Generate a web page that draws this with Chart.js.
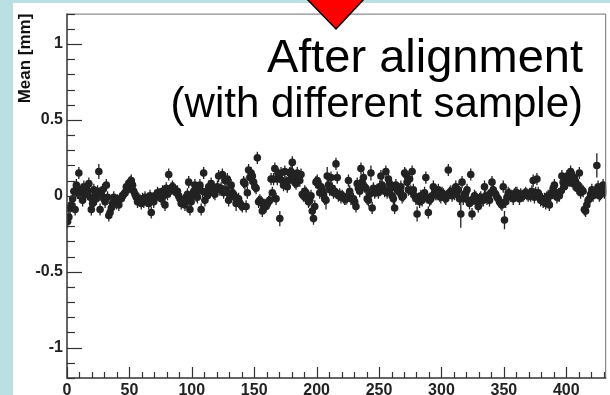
<!DOCTYPE html>
<html>
<head>
<meta charset="utf-8">
<script src="https://cdn.jsdelivr.net/npm/chart.js@4.4.0/dist/chart.umd.min.js"></script>
<style>
  html, body { margin: 0; padding: 0; background: #bbe0e4; }
  #wrap { position: absolute; left: 0; top: 0; width: 610px; height: 395px; }
</style>
</head>
<body>
<div id="wrap"><canvas id="myChart" width="610" height="395"></canvas></div>
<script>
// mean residual per bin (bins 0..431, one point per bin)
var means = [
  -0.17, -0.14, -0.08, -0.06, -0.02, 0.03, -0.09, 0.07, 0.02, 0.15,
  0.00, 0.04, -0.03, 0.06, 0.01, 0.05, 0.03, 0.08, -0.01, -0.09,
  -0.05, 0.04, 0.01, -0.02, 0.03, 0.16, -0.09, 0.01, 0.04, -0.02,
  -0.04, 0.07, -0.01, -0.13, -0.11, -0.08, -0.05, -0.01, -0.04, -0.05,
  -0.03, -0.06, -0.02, -0.02, 0.00, 0.01, 0.02, 0.06, 0.04, 0.08,
  0.09, 0.10, 0.07, 0.03, 0.01, -0.01, -0.04, -0.02, -0.03, -0.05,
  -0.02, -0.04, -0.01, -0.03, -0.02, -0.05, 0.00, -0.11, -0.02, -0.04,
  0.00, -0.01, 0.02, 0.01, 0.01, -0.02, 0.03, 0.00, -0.06, 0.05,
  0.01, 0.14, 0.03, 0.05, 0.06, 0.05, 0.04, 0.02, 0.03, 0.00,
  -0.02, -0.05, -0.04, -0.03, -0.06, -0.02, 0.01, 0.09, -0.09, -0.04,
  0.00, 0.03, 0.07, 0.00, -0.01, 0.04, 0.07, -0.09, 0.03, 0.15,
  -0.03, 0.02, 0.00, 0.06, 0.03, 0.08, 0.05, 0.02, 0.01, 0.04,
  0.06, 0.13, 0.04, 0.05, 0.14, 0.02, 0.10, 0.04, 0.11, -0.03,
  0.00, 0.07, 0.02, 0.01, -0.01, -0.05, -0.03, -0.02, -0.05, -0.06,
  -0.07, 0.09, 0.08, -0.07, 0.02, 0.17, 0.12, 0.15, 0.13, 0.09,
  0.06, 0.05, 0.25, -0.04, -0.03, -0.04, -0.10, -0.08, -0.06, -0.07,
  -0.05, -0.04, -0.03, 0.11, 0.02, 0.11, 0.18, -0.02, 0.11, 0.14,
  -0.15, 0.15, 0.10, 0.07, 0.16, 0.09, 0.06, 0.10, 0.15, 0.16,
  0.22, 0.13, 0.09, 0.08, 0.15, 0.13, 0.10, 0.14, 0.01, 0.00,
  0.03, 0.02, -0.02, -0.04, -0.03, 0.00, -0.10, -0.15, -0.07, 0.09,
  0.10, 0.07, 0.02, 0.06, 0.04, 0.01, -0.02, -0.03, 0.13, 0.07,
  0.04, 0.12, 0.05, 0.02, 0.03, 0.21, 0.12, 0.00, 0.01, -0.01,
  0.00, -0.01, -0.02, -0.02, -0.01, 0.10, 0.03, -0.02, -0.02, -0.02,
  -0.04, -0.07, 0.08, 0.05, 0.03, 0.18, 0.09, 0.12, 0.06, 0.05,
  -0.02, -0.03, 0.01, 0.15, -0.08, 0.05, 0.02, 0.03, 0.04, 0.02,
  0.06, 0.13, 0.07, 0.05, 0.03, 0.16, 0.02, 0.11, 0.08, 0.05,
  0.00, -0.02, -0.08, 0.07, 0.04, 0.03, 0.04, 0.06, -0.01, 0.00,
  0.15, 0.14, 0.09, 0.04, 0.11, 0.03, 0.16, 0.04, 0.00, -0.02,
  -0.12, -0.02, -0.04, 0.00, -0.03, -0.01, 0.02, 0.12, -0.01, -0.11,
  -0.03, -0.02, 0.00, 0.06, 0.02, 0.01, 0.01, 0.04, 0.00, -0.01,
  0.02, 0.01, -0.01, -0.02, 0.00, 0.17, 0.02, 0.03, 0.00, 0.03,
  0.01, 0.06, 0.02, 0.04, -0.02, -0.12, 0.09, -0.02, 0.01, 0.02,
  0.04, -0.03, -0.05, 0.14, -0.12, -0.02, 0.00, -0.01, -0.04, -0.07,
  -0.02, -0.01, -0.03, -0.03, 0.06, 0.00, -0.02, -0.01, -0.03, 0.02,
  0.09, 0.04, 0.02, 0.01, -0.01, -0.02, -0.04, -0.05, -0.06, 0.06,
  -0.16, -0.04, -0.01, 0.02, 0.01, 0.00, 0.00, -0.02, 0.01, 0.02,
  0.02, 0.00, -0.02, 0.01, 0.00, 0.00, 0.01, 0.02, 0.01, 0.00,
  0.01, 0.00, 0.03, 0.10, -0.01, 0.02, 0.11, 0.02, 0.00, -0.03,
  -0.02, -0.04, -0.02, -0.05, -0.01, 0.00, -0.06, 0.00, 0.02, 0.05,
  0.07, 0.02, -0.01, 0.00, 0.00, 0.03, 0.13, 0.09, 0.06, 0.08,
  0.13, 0.11, 0.10, 0.16, 0.10, 0.08, 0.12, 0.09, 0.05, 0.07,
  0.15, 0.02, 0.04, 0.03, -0.09, -0.10, -0.06, -0.03, -0.02, 0.01,
  0.04, 0.00, 0.02, 0.03, 0.20, 0.06, 0.00, 0.01, 0.03, 0.07,
  0.02, 0.04
];

// error on the mean: most bins share one size, a few are larger
var defaultErr = 0.04;
var bigErrBins = [25, 135, 170, 207, 208, 243, 280, 315, 350, 424];
var bigErrVals = [0.05, 0.05, 0.05, 0.06, 0.06, 0.05, 0.05, 0.09, 0.06, 0.08];

var xTickLabels = ['0', '50', '100', '150', '200', '250', '300', '350', '400'];
var yTickLabels = ['-1', '-0.5', '0', '0.5', '1'];
var yTitle = 'Mean [mm]';
var noteLines = ['After alignment', '(with different sample)'];

var binWidth = 1;
var xMax = 432;
var yMin = -1.2, yMax = 1.2;

var points = means.map(function (m, i) {
  return { x: (i + 0.5) * binWidth, y: m };
});

function errFor(i) {
  var k = bigErrBins.indexOf(i);
  return k >= 0 ? bigErrVals[k] : defaultErr;
}

var labelFont = { family: '"Liberation Sans", Arial, sans-serif', size: 16, weight: 'bold' };

// white pad over the light blue page, like the slide behind the plot
var backdrop = {
  id: 'backdrop',
  beforeDraw: function (chart) {
    var ctx = chart.ctx;
    ctx.save();
    ctx.fillStyle = '#bbe0e4';
    ctx.fillRect(0, 0, chart.width, chart.height);
    ctx.fillStyle = '#ffffff';
    ctx.fillRect(13, 3, chart.width - 13, chart.height - 3);
    ctx.restore();
  }
};

// vertical error bars drawn through the scales
var errorBars = {
  id: 'errorBars',
  beforeDatasetsDraw: function (chart) {
    var ctx = chart.ctx, xs = chart.scales.x, ys = chart.scales.y, a = chart.chartArea;
    ctx.save();
    ctx.beginPath();
    ctx.rect(a.left, a.top, a.right - a.left, a.bottom - a.top);
    ctx.clip();
    ctx.strokeStyle = '#222';
    ctx.lineWidth = 1.3;
    points.forEach(function (p, i) {
      var e = errFor(i);
      var px = xs.getPixelForValue(p.x);
      ctx.beginPath();
      ctx.moveTo(px, ys.getPixelForValue(p.y - e));
      ctx.lineTo(px, ys.getPixelForValue(p.y + e));
      ctx.stroke();
    });
    ctx.restore();
  }
};

// ROOT style frame with inward ticks
var frame = {
  id: 'frame',
  afterDraw: function (chart) {
    var ctx = chart.ctx, a = chart.chartArea, xs = chart.scales.x, ys = chart.scales.y;
    ctx.save();
    ctx.strokeStyle = '#707070';
    ctx.lineWidth = 1;
    ctx.beginPath();
    ctx.moveTo(a.left, a.top + 0.5);
    ctx.lineTo(a.right - 0.5, a.top + 0.5);
    ctx.lineTo(a.right - 0.5, a.bottom);
    ctx.stroke();

    ctx.strokeStyle = '#333';
    ctx.lineWidth = 1.5;
    ctx.beginPath();
    ctx.moveTo(a.left, a.top);
    ctx.lineTo(a.left, a.bottom);
    ctx.lineTo(a.right, a.bottom);
    ctx.stroke();

    ctx.lineWidth = 1.2;
    ys.ticks.forEach(function (t) {
      var k = Math.round(t.value * 10);
      var len = (k % 5 === 0) ? 15 : 8;
      var py = Math.round(ys.getPixelForValue(t.value)) + 0.5;
      ctx.beginPath();
      ctx.moveTo(a.left, py);
      ctx.lineTo(a.left + len, py);
      ctx.stroke();
    });
    xs.ticks.forEach(function (t) {
      if (t.value > xMax - 1) return;
      var len = (Math.round(t.value) % 50 === 0) ? 11 : 6;
      var px = Math.round(xs.getPixelForValue(t.value)) + 0.5;
      ctx.beginPath();
      ctx.moveTo(px, a.bottom);
      ctx.lineTo(px, a.bottom - len);
      ctx.stroke();
    });
    ctx.restore();
  }
};

// the note text and the red marker pasted on top
var notes = {
  id: 'notes',
  afterDraw: function (chart) {
    var ctx = chart.ctx;
    ctx.save();
    ctx.fillStyle = '#000';
    ctx.textAlign = 'right';
    ctx.textBaseline = 'alphabetic';
    ctx.font = '47px "Liberation Sans", Arial, sans-serif';
    ctx.fillText(noteLines[0], 583, 72);
    ctx.font = '42px "Liberation Sans", Arial, sans-serif';
    ctx.fillText(noteLines[1], 583, 117);

    ctx.beginPath();
    ctx.moveTo(306, -2);
    ctx.lineTo(365, -2);
    ctx.lineTo(336, 29);
    ctx.closePath();
    ctx.fillStyle = '#ff0000';
    ctx.fill();
    ctx.strokeStyle = '#000';
    ctx.lineWidth = 1.5;
    ctx.stroke();
    ctx.restore();
  }
};

var ctx = document.getElementById('myChart').getContext('2d');
var chart = new Chart(ctx, {
  type: 'scatter',
  data: {
    datasets: [{
      label: 'mean',
      data: points,
      pointRadius: 3.8,
      pointHoverRadius: 3.8,
      pointBorderWidth: 0,
      backgroundColor: '#222',
      borderColor: '#222'
    }]
  },
  options: {
    responsive: false,
    animation: false,
    events: [],
    layout: { padding: { left: 13, top: 12, right: 1, bottom: 0 } },
    plugins: { legend: { display: false }, tooltip: { enabled: false } },
    scales: {
      x: {
        type: 'linear',
        min: 0,
        max: xMax,
        grid: { display: false, drawTicks: false },
        border: { display: false },
        afterFit: function (s) { s.height = 17; },
        ticks: {
          stepSize: 10,
          includeBounds: false,
          autoSkip: false,
          maxRotation: 0,
          minRotation: 0,
          padding: 3,
          color: '#222',
          font: labelFont,
          callback: function (v) {
            var k = Math.round(v);
            var s = String(k);
            return (k % 50 === 0 && xTickLabels.indexOf(s) >= 0) ? s : '';
          }
        }
      },
      y: {
        type: 'linear',
        min: yMin,
        max: yMax,
        grid: { display: false, drawTicks: false },
        border: { display: false },
        afterFit: function (s) { s.width = 54; },
        title: {
          display: true,
          text: yTitle,
          align: 'end',
          color: '#111',
          font: { family: '"Liberation Sans", Arial, sans-serif', size: 17, weight: 'bold' },
          padding: { top: 2, bottom: 0 }
        },
        ticks: {
          stepSize: 0.1,
          maxTicksLimit: 100,
          autoSkip: false,
          padding: 4,
          color: '#222',
          font: labelFont,
          callback: function (v) {
            var k = Math.round(v * 10);
            var s = String(k / 10);
            return (k % 5 === 0 && yTickLabels.indexOf(s) >= 0) ? s : '';
          }
        }
      }
    }
  },
  plugins: [backdrop, errorBars, frame, notes]
});
</script>
</body>
</html>
